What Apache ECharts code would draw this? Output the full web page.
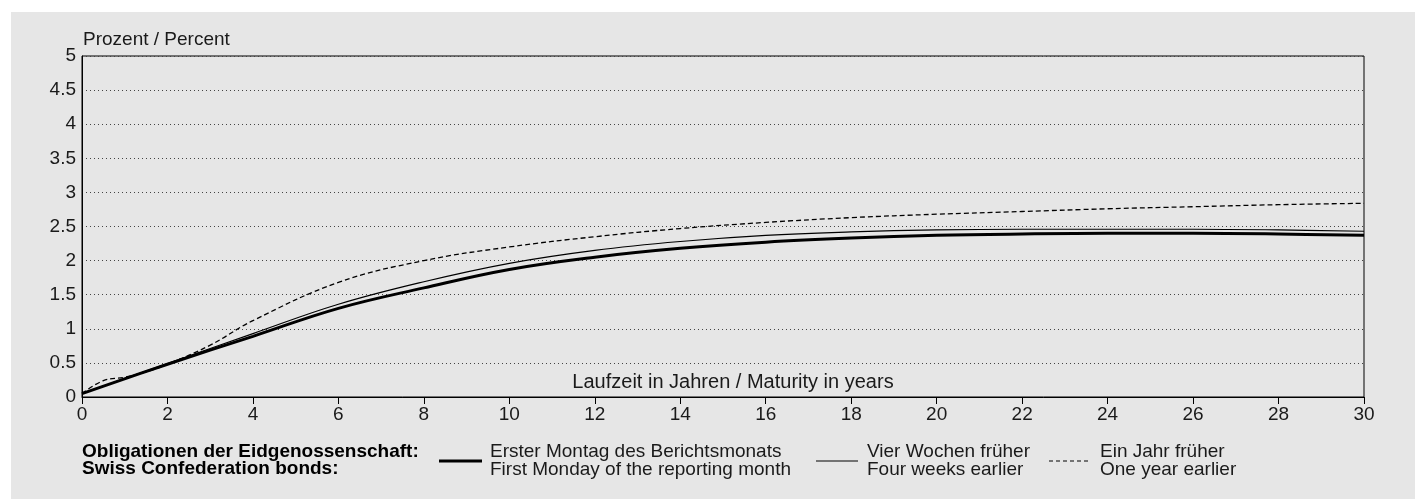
<!DOCTYPE html>
<html>
<head>
<meta charset="utf-8">
<script src="https://cdn.jsdelivr.net/npm/echarts@6/dist/echarts.min.js"></script>
<style>
  html, body { margin: 0; padding: 0; background: #fff; }
  #chart { width: 1415px; height: 499px; }
</style>
</head>
<body>
<div id="chart"></div>
<script>
// Laufzeiten (Jahre) und Renditen (%)
const maturities = [0, 2, 4, 6, 8, 10, 12, 14, 16, 18, 20, 22, 24, 26, 28, 30];
const firstMonday = [0.05, 0.48, 0.89, 1.30, 1.60, 1.87, 2.05, 2.18, 2.27, 2.33, 2.37, 2.39, 2.40, 2.40, 2.39, 2.37];
const fourWeeks = [0.05, 0.49, 0.93, 1.36, 1.69, 1.96, 2.15, 2.28, 2.37, 2.42, 2.45, 2.46, 2.46, 2.46, 2.45, 2.43];

const yearMaturities = [0, 0.5, 1, 1.5, 2, 3, 4, 6, 8, 10, 12, 14, 16, 18, 20, 22, 24, 26, 28, 30];
const oneYear = [0.05, 0.24, 0.29, 0.37, 0.48, 0.76, 1.12, 1.68, 2.00, 2.20, 2.35, 2.47, 2.56, 2.63, 2.68, 2.72, 2.76, 2.79, 2.82, 2.84];

const pair = (xs, ys) => xs.map((x, i) => [x, ys[i]]);

const font = '"Liberation Sans", Arial, sans-serif';
const txt = '#1a1a1a';
const fs = 19;

const chart = echarts.init(document.getElementById('chart'));

const option = {
  backgroundColor: '#ffffff',
  animation: false,
  grid: {
    left: 82, right: 51, top: 56, bottom: 102,
    show: true, borderColor: '#000', borderWidth: 1, backgroundColor: 'transparent'
  },
  xAxis: {
    type: 'value', min: 0, max: 30, interval: 2,
    axisLine: { lineStyle: { color: '#000', width: 1 } },
    axisTick: { show: true, length: 7, inside: false, lineStyle: { color: '#000' } },
    axisLabel: { color: txt, fontFamily: font, fontSize: fs, margin: 8 },
    splitLine: { show: false }
  },
  yAxis: {
    type: 'value', min: 0, max: 5, interval: 0.5,
    axisLine: { show: true, lineStyle: { color: '#000', width: 1 } },
    axisTick: { show: false },
    axisLabel: { color: txt, fontFamily: font, fontSize: fs, margin: 6 },
    splitLine: { show: true, lineStyle: { color: '#444', width: 1, type: [1, 3] } }
  },
  graphic: [
    { type: 'rect', z: -10, silent: true, shape: { x: 11, y: 12, width: 1404, height: 487 }, style: { fill: '#e6e6e6' } },
    { type: 'text', x: 83, y: 40, style: { text: 'Prozent / Percent', font: fs + 'px ' + font, fill: txt, textVerticalAlign: 'middle' } },
    { type: 'text', x: 733, y: 382, style: { text: 'Laufzeit in Jahren / Maturity in years', font: '20px ' + font, fill: txt, textAlign: 'center', textVerticalAlign: 'middle' } },
    { type: 'text', x: 82, y: 452, style: { text: 'Obligationen der Eidgenossenschaft:', font: 'bold ' + fs + 'px ' + font, fill: '#000', textVerticalAlign: 'middle' } },
    { type: 'text', x: 82, y: 469, style: { text: 'Swiss Confederation bonds:', font: 'bold ' + fs + 'px ' + font, fill: '#000', textVerticalAlign: 'middle' } },
    { type: 'line', shape: { x1: 439, y1: 461, x2: 482, y2: 461 }, style: { stroke: '#000', lineWidth: 3 } },
    { type: 'text', x: 490, y: 452, style: { text: 'Erster Montag des Berichtsmonats', font: fs + 'px ' + font, fill: txt, textVerticalAlign: 'middle' } },
    { type: 'text', x: 490, y: 470, style: { text: 'First Monday of the reporting month', font: fs + 'px ' + font, fill: txt, textVerticalAlign: 'middle' } },
    { type: 'line', shape: { x1: 816, y1: 461, x2: 858, y2: 461 }, style: { stroke: '#000', lineWidth: 1 } },
    { type: 'text', x: 867, y: 452, style: { text: 'Vier Wochen früher', font: fs + 'px ' + font, fill: txt, textVerticalAlign: 'middle' } },
    { type: 'text', x: 867, y: 470, style: { text: 'Four weeks earlier', font: fs + 'px ' + font, fill: txt, textVerticalAlign: 'middle' } },
    { type: 'line', shape: { x1: 1049, y1: 461, x2: 1088, y2: 461 }, style: { stroke: '#000', lineWidth: 1, lineDash: [4, 3] } },
    { type: 'text', x: 1100, y: 452, style: { text: 'Ein Jahr früher', font: fs + 'px ' + font, fill: txt, textVerticalAlign: 'middle' } },
    { type: 'text', x: 1100, y: 470, style: { text: 'One year earlier', font: fs + 'px ' + font, fill: txt, textVerticalAlign: 'middle' } }
  ],
  series: [
    {
      name: 'Ein Jahr früher', type: 'line', smooth: 0.4, showSymbol: false,
      data: pair(yearMaturities, oneYear),
      lineStyle: { color: '#000', width: 1.3, type: [5, 3] }
    },
    {
      name: 'Vier Wochen früher', type: 'line', smooth: 0.4, showSymbol: false,
      data: pair(maturities, fourWeeks),
      lineStyle: { color: '#000', width: 1.2 }
    },
    {
      name: 'Erster Montag des Berichtsmonats', type: 'line', smooth: 0.4, showSymbol: false,
      data: pair(maturities, firstMonday),
      lineStyle: { color: '#000', width: 3 }
    }
  ]
};

chart.setOption(option);
</script>
</body>
</html>
